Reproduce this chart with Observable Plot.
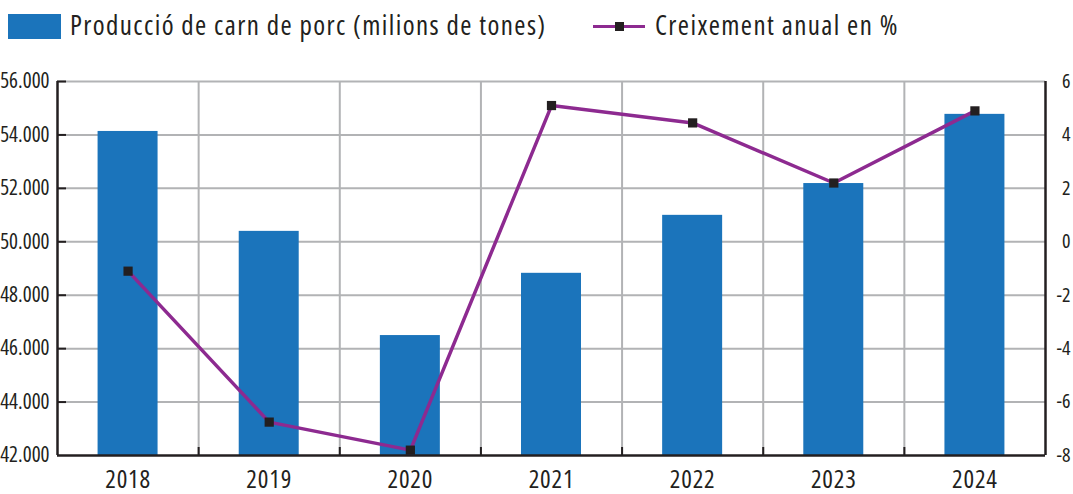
<!DOCTYPE html>
<html>
<head>
<meta charset="utf-8">
<script src="https://cdn.jsdelivr.net/npm/d3@7"></script>
<script src="https://cdn.jsdelivr.net/npm/@observablehq/plot@0.6"></script>
<style>
  html, body { margin: 0; padding: 0; background: #fff; }
  body { width: 1073px; height: 494px; overflow: hidden; font-family: "Open Sans", sans-serif; font-stretch: 75%; color: #231f20; }
  #legend { position: relative; height: 60px; }
  .sw-bar { position: absolute; left: 8px; top: 14px; width: 53px; height: 25px; background: #1b74bb; }
  .lbl { position: absolute; top: 7px; font-size: 27px; line-height: 36px; white-space: nowrap; letter-spacing: 1.4px; }
  .sw-line { position: absolute; left: 593px; top: 25px; width: 52px; height: 3px; background: #8d2a90; }
  .sw-mark { position: absolute; left: 615px; top: 22px; width: 9px; height: 9px; background: #231f20; }
  svg { display: block; }
  svg text { font-stretch: 75%; }
  svg g[aria-label="x-axis tick label"] text { letter-spacing: 0.8px; }
</style>
</head>
<body>
<div id="legend">
  <div class="sw-bar"></div>
  <div class="lbl" style="left:70px">Producció de carn de porc (milions de tones)</div>
  <div class="sw-line"></div>
  <div class="sw-mark"></div>
  <div class="lbl" style="left:655px">Creixement anual en %</div>
</div>
<div id="chart"></div>
<script>
const years = [2018, 2019, 2020, 2021, 2022, 2023, 2024];
const production = [54130, 50390, 46490, 48820, 50990, 52180, 54770];
const growth = [-1.1, -6.75, -7.8, 5.1, 4.45, 2.2, 4.9];
const leftTicks = [42000, 44000, 46000, 48000, 50000, 52000, 54000, 56000];
const rightTicks = [-8, -6, -4, -2, 0, 2, 4, 6];

const leftMin = 42000, leftMax = 56000;
const rightMin = -8, rightMax = 6;
const toLeft = g => leftMin + (g - rightMin) * (leftMax - leftMin) / (rightMax - rightMin);
const toRight = v => rightMin + (v - leftMin) * (rightMax - rightMin) / (leftMax - leftMin);

const half = 0.2125; // bar half-width in year units
const bars = years.map((y, i) => ({x1: y - half, x2: y + half, v: production[i]}));
const pts = years.map((y, i) => ({x: y, y: toLeft(growth[i])}));
const bounds = years.slice(1).map(y => y - 0.5);
const xLo = years[0] - 0.5, xHi = years[years.length - 1] + 0.5;

const ink = "#231f20";
const fmt = d3.formatLocale({thousands: ".", grouping: [3], decimal: ","}).format(",");

const chart = Plot.plot({
  width: 1073,
  height: 434,
  marginTop: 21,
  marginBottom: 39,
  marginLeft: 57,
  marginRight: 28,
  style: {fontFamily: '"Open Sans", sans-serif', color: ink, background: "#fff"},
  x: {domain: [xLo, xHi]},
  y: {domain: [leftMin, leftMax]},
  marks: [
    Plot.ruleY(leftTicks.slice(1), {stroke: "#b2b3b5", strokeWidth: 2}),
    Plot.ruleX(bounds, {stroke: "#b2b3b5", strokeWidth: 2}),
    Plot.rectY(bars, {x1: "x1", x2: "x2", y1: leftMin, y2: "v", fill: "#1b74bb"}),
    Plot.ruleX(bounds, {y1: leftMin, y2: leftMin + 300, stroke: ink, strokeWidth: 2}),
    Plot.ruleY(leftTicks.slice(1), {x1: xLo, x2: xLo + 0.064, stroke: ink, strokeWidth: 2}),
    Plot.line(pts, {x: "x", y: "y", stroke: "#8d2a90", strokeWidth: 3.5}),
    Plot.dot(pts, {x: "x", y: "y", symbol: "square", r: 5.2, fill: ink, stroke: null}),
    Plot.ruleX([xLo, xHi], {stroke: ink, strokeWidth: 2.5}),
    Plot.ruleY([leftMin], {stroke: ink, strokeWidth: 2.5}),
    Plot.axisY({anchor: "left", ticks: leftTicks, tickFormat: fmt, tickSize: 0, tickPadding: 8, fontSize: 21, label: null, color: ink}),
    Plot.axisY({anchor: "right", ticks: leftTicks, tickFormat: d => String(Math.round(toRight(d))), tickSize: 0, tickPadding: 25, textAnchor: "end", fontSize: 20, label: null, color: ink}),
    Plot.axisX({ticks: years, tickFormat: d => String(d), tickSize: 0, tickPadding: 15, fontSize: 25, label: null, color: ink})
  ]
});
document.getElementById("chart").appendChild(chart);
</script>
</body>
</html>
